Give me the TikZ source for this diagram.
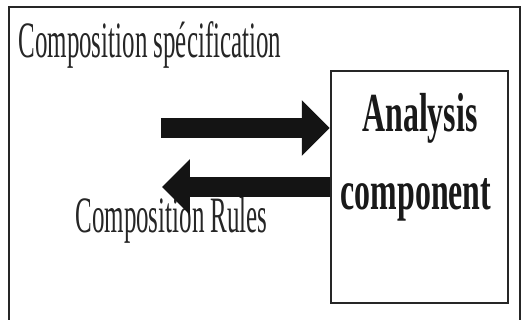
\documentclass[tikz,border=0pt]{standalone}
\usepackage{fontspec}
\setmainfont{Liberation Serif}
\newfontfamily\condserif{Liberation Serif}[FakeStretch=0.49]
\newfontfamily\condbold{Liberation Serif}[FakeStretch=0.58]
\usetikzlibrary{arrows.meta,positioning}
\tikzset{
  frame/.style={draw=black!85, line width=1.3pt},
  compbox/.style={draw=black!85, line width=1.2pt, fill=white, minimum width=88.5pt, minimum height=116pt, inner sep=0pt},
  lbl/.style={inner sep=0pt, font=\condserif\fontsize{25.5}{30}\selectfont, text=black!85},
  boldlbl/.style={inner sep=0pt, font=\condbold\bfseries\fontsize{27.5}{39}\selectfont, text=black!90},
  bigarrow/.style={-{Triangle[length=14pt,width=27pt]}, line width=10pt, black!92}
}

\begin{document}
\begin{tikzpicture}[x=0.5pt, y={(0pt,-0.5pt)}]
  \useasboundingbox[fill=white] (0,0) rectangle (527,320);
  \draw[frame] (9,330) |- (520,7) -- (520,330);
  \node[compbox] (ana) at (419.5,187) {};
  \node[boldlbl, anchor=base] (anl) at (420,132) {Analysis};
  \node[boldlbl, anchor=base] (cmp) at (416,210) {component};
  \node[lbl, anchor=base west] (spec) at (18,58) {Composition spécification};
  \node[lbl, anchor=base west] (rules) at (75,233) {Composition Rules};
  \coordinate (specin) at (161,128);
  \coordinate (rulesout) at (162,187);
  \draw[bigarrow] (specin) -- (specin -| ana.west);
  \draw[bigarrow] (rulesout -| ana.west) -- (rulesout);
\end{tikzpicture}
\end{document}
